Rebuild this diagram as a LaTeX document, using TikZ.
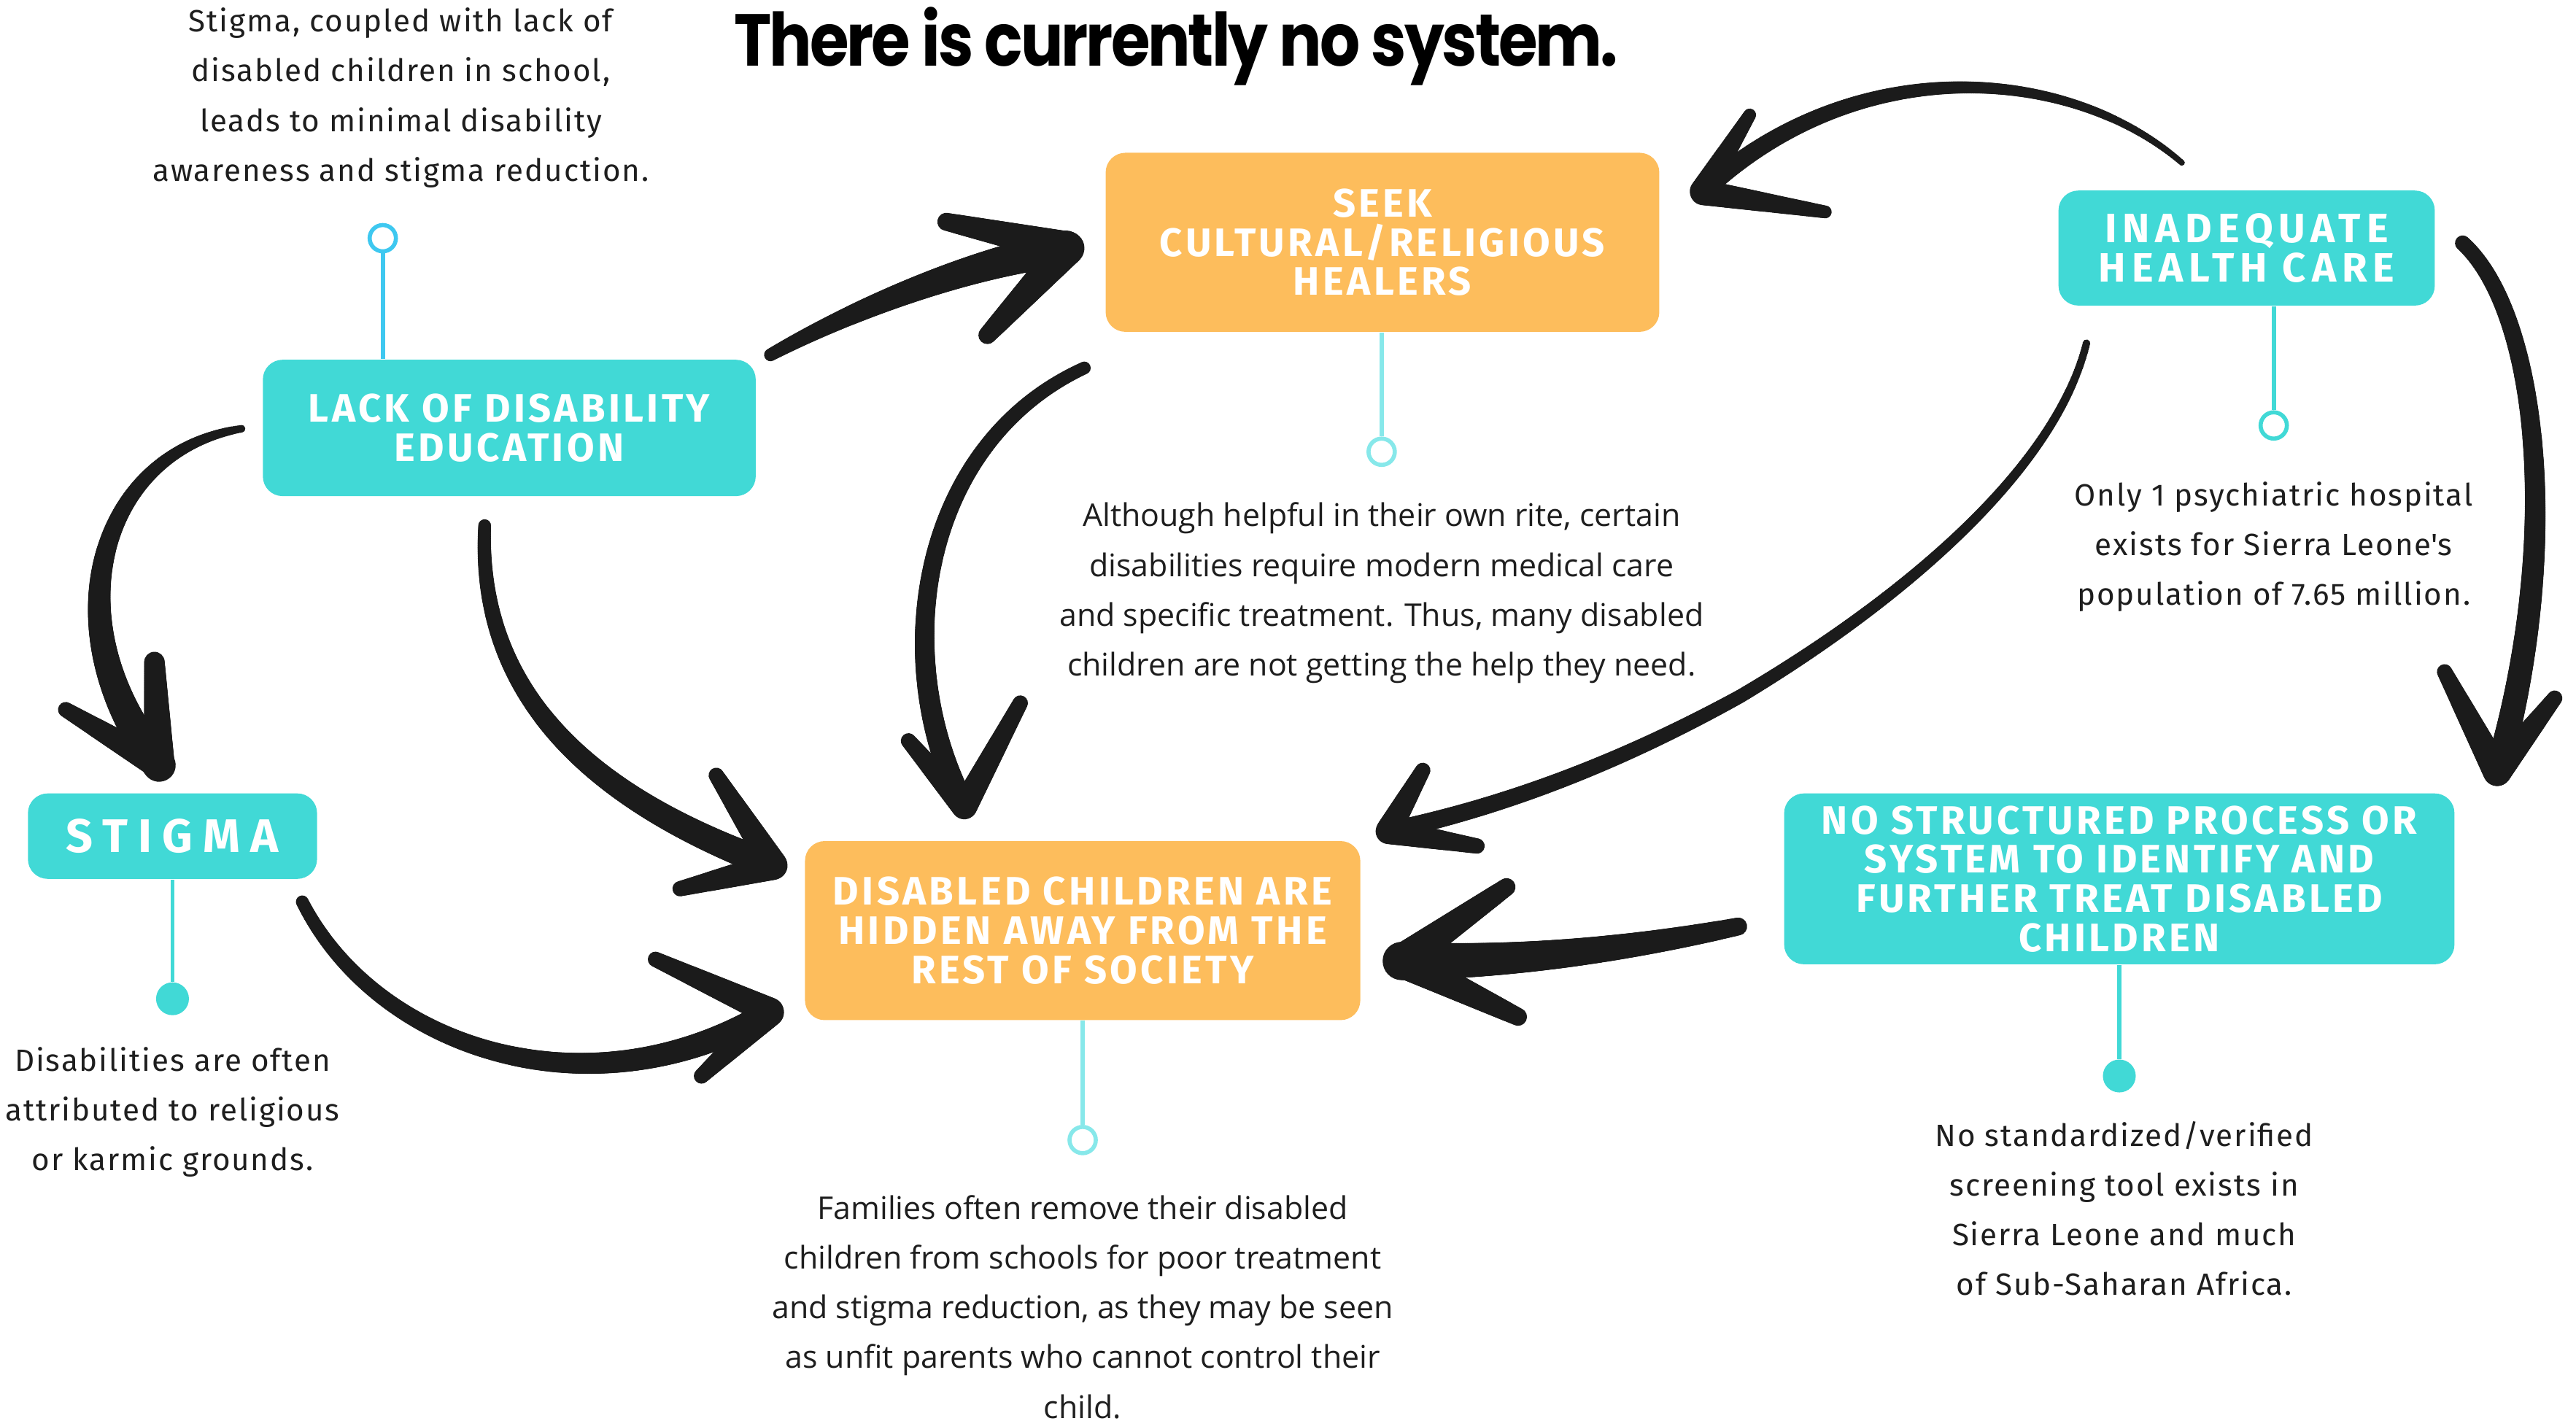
\documentclass[tikz,border=0pt]{standalone}
\usepackage{fontspec}
\usetikzlibrary{decorations.markings}
\setmainfont{Fira Sans}
\newfontfamily\titlefont[FakeStretch=0.86,LetterSpace=-3]{Poppins}
\newfontfamily\boxfont[LetterSpace=8]{Fira Sans}
\newfontfamily\spacedfont[LetterSpace=14]{Fira Sans}
\newfontfamily\widespacedfont[LetterSpace=22]{Fira Sans}
\newfontfamily\notefont[LetterSpace=4.5]{Fira Sans}
\newfontfamily\widefont{Open Sans}

\definecolor{boxteal}{RGB}{65,217,214}
\definecolor{boxorange}{RGB}{253,189,92}
\definecolor{pinblue}{RGB}{62,200,240}
\definecolor{pincyan}{RGB}{135,232,234}
\definecolor{ink}{RGB}{27,27,27}
\definecolor{notetext}{RGB}{30,30,30}

\tikzset{
  boxsize/.style 2 args={minimum width=#1*0.02252cm, minimum height=#2*0.02252cm},
  card/.style={rounded corners=7.7pt, inner sep=0pt, align=center, text=white,
    font=\boxfont\bfseries\fontsize{15.5}{15.3}\selectfont},
  tealcard/.style={card, fill=boxteal},
  orangecard/.style={card, fill=boxorange},
  note/.style={align=center, inner sep=0pt, text=notetext,
    font=\notefont\fontsize{12}{19.4}\selectfont},
  widenote/.style={note, font=\widefont\fontsize{12.2}{19.4}\selectfont},
  ringpin/.style={circle, minimum size=16*0.02252cm, inner sep=0pt, line width=1.6pt, fill=white},
  dotpin/.style={circle, minimum size=20*0.02252cm, inner sep=0pt, fill=boxteal},
  pinline/.style={line width=1.6pt},
  % hand-brushed stroke: discs along the path, radius growing from #1 to #2 (pt)
  brush/.style 2 args={decoration={markings,
      mark=between positions 0 and 1 step 0.7pt with {%
        \pgfmathsetmacro\brushr{#1+(#2-#1)*\pgfkeysvalueof{/pgf/decoration/mark info/distance from start}/\pgfdecoratedpathlength}%
        \fill[ink] (0,0) circle[radius=\brushr pt];}},
    decorate}
}

\begin{document}
\begin{tikzpicture}[x=0.02252cm, y=-0.02252cm]
\useasboundingbox (0,0) rectangle (1568,865);
\fill[white] (0,0) rectangle (1568,865);
\clip (0,0) rectangle (1568,865);

% ---------- arrow end points ----------
\coordinate (a1s) at (469,216);  \coordinate (a1t) at (650,151);
\coordinate (a1u) at (576,135);  \coordinate (a1l) at (601,204);
\coordinate (a2s) at (1328,99);  \coordinate (a2t) at (1036,117);
\coordinate (a2u) at (1065,70);  \coordinate (a2l) at (1111,129);
\coordinate (a3s) at (1499,148); \coordinate (a3t) at (1520,470);
\coordinate (a3u) at (1488,409); \coordinate (a3l) at (1555,425);
\coordinate (a4s) at (1270,209); \coordinate (a4t) at (845,506);
\coordinate (a4u) at (866,469);  \coordinate (a4l) at (899,515);
\coordinate (a5s) at (1058,564); \coordinate (a5t) at (853,585);
\coordinate (a5u) at (917,540);  \coordinate (a5l) at (924,619);
\coordinate (a6s) at (660,224);  \coordinate (a6t) at (587,491);
\coordinate (a6u) at (553,451);  \coordinate (a6l) at (621,428);
\coordinate (a7s) at (295,320);  \coordinate (a7t) at (471,527);
\coordinate (a7u) at (436,472);  \coordinate (a7l) at (414,541);
\coordinate (a8s) at (184,549);  \coordinate (a8t) at (469,616);
\coordinate (a8u) at (399,584);  \coordinate (a8l) at (427,655);
\coordinate (a9s) at (147,261);  \coordinate (a9t) at (97,466);
\coordinate (a9u) at (40,432);   \coordinate (a9l) at (94,403);

% ---------- brushed arrows ----------
% lack of education -> healers
\path[brush={2.5}{7}] (a1s) .. controls (520,188) and (590,160) .. (a1t);
\path[brush={3.5}{6.5}] (a1u) -- (a1t);
\path[brush={3.5}{6.5}] (a1l) -- (a1t);
% health care -> healers
\path[brush={1.2}{3.8}] (a2s) .. controls (1260,40) and (1130,30) .. (a2t);
\path[brush={2.5}{5}] (a2u) -- (a2t);
\path[brush={2.5}{5}] (a2l) -- (a2t);
% health care -> no structured process
\path[brush={3}{5}] (a3s) .. controls (1545,190) and (1560,330) .. (a3t);
\path[brush={3}{5.5}] (a3u) -- (a3t);
\path[brush={3}{5.5}] (a3l) -- (a3t);
% health care -> hidden children
\path[brush={1.5}{3.6}] (a4s) .. controls (1250,290) and (1150,370) .. (1059,424)
   .. controls (990,462) and (920,490) .. (a4t);
\path[brush={3}{5}] (a4u) -- (a4t);
\path[brush={3}{5}] (a4l) -- (a4t);
% no structured process -> hidden children
\path[brush={3.5}{7.5}] (a5s) .. controls (990,578) and (920,586) .. (a5t);
\path[brush={3.5}{6.5}] (a5u) -- (a5t);
\path[brush={3.5}{6.5}] (a5l) -- (a5t);
% healers -> hidden children
\path[brush={2.5}{4.5}] (a6s) .. controls (560,270) and (540,400) .. (a6t);
\path[brush={3}{5}] (a6u) -- (a6t);
\path[brush={3}{5}] (a6l) -- (a6t);
% lack of education -> hidden children
\path[brush={2.5}{5.5}] (a7s) .. controls (290,430) and (370,490) .. (a7t);
\path[brush={3}{5.5}] (a7u) -- (a7t);
\path[brush={3}{5.5}] (a7l) -- (a7t);
% stigma -> hidden children
\path[brush={2.5}{5}] (a8s) .. controls (230,640) and (360,680) .. (a8t);
\path[brush={3}{5.5}] (a8u) -- (a8t);
\path[brush={3}{5.5}] (a8l) -- (a8t);
% lack of education -> stigma
\path[brush={1.5}{6.5}] (a9s) .. controls (60,275) and (30,380) .. (a9t);
\path[brush={3}{5.5}] (a9u) -- (a9t);
\path[brush={4}{6}] (a9l) -- (a9t);

% ---------- title ----------
\node[anchor=base, inner sep=0pt, text=black,
      font=\titlefont\bfseries\fontsize{28.7}{30}\selectfont] (title) at (716,40)
      {There is currently no system.};

% ---------- cards ----------
\node[tealcard, boxsize={300}{83}] (lack) at (310,260.5) {LACK OF DISABILITY\\EDUCATION};
\node[orangecard, boxsize={337}{109}] (healers) at (841.5,147.5) {SEEK\\CULTURAL/RELIGIOUS\\HEALERS};
\node[tealcard, boxsize={229}{70}, font=\spacedfont\bfseries\fontsize{16}{15.4}\selectfont]
     (health) at (1367.5,151) {INADEQUATE\\HEALTH CARE};
\node[tealcard, boxsize={176}{52}, font=\widespacedfont\bfseries\fontsize{18.4}{18}\selectfont]
     (stigma) at (105,509) {STIGMA};
\node[orangecard, boxsize={338}{109}] (hidden) at (659,566.5) {DISABLED CHILDREN ARE\\HIDDEN AWAY FROM THE\\REST OF SOCIETY};
\node[tealcard, boxsize={408}{104}] (process) at (1290,535) {NO STRUCTURED PROCESS OR\\SYSTEM TO IDENTIFY AND\\FURTHER TREAT DISABLED\\CHILDREN};

% ---------- pins ----------
\node[ringpin, draw=pinblue] (lackpin) at (233,145) {};
\draw[pinline, pinblue] (lackpin) -- (lackpin |- lack.north);
\node[ringpin, draw=pincyan] (healerspin) at (841,275) {};
\draw[pinline, pincyan] (healerspin) -- (healerspin |- healers.south);
\node[ringpin, draw=boxteal] (healthpin) at (1384,259) {};
\draw[pinline, boxteal] (healthpin) -- (healthpin |- health.south);
\node[dotpin] (stigmapin) at (105,608) {};
\draw[pinline, boxteal] (stigmapin) -- (stigmapin |- stigma.south);
\node[ringpin, draw=pincyan] (hiddenpin) at (659,694) {};
\draw[pinline, pincyan] (hiddenpin) -- (hiddenpin |- hidden.south);
\node[dotpin] (processpin) at (1290,655) {};
\draw[pinline, boxteal] (processpin) -- (processpin |- process.south);

% ---------- notes ----------
\node[note] (lacknote) at (244,59.5) {Stigma, coupled with lack of\\disabled children in school,\\leads to minimal disability\\awareness and stigma reduction.};
\node[widenote] (healersnote) at (841,361) {Although helpful in their own rite, certain\\disabilities require modern medical care\\and specific treatment. Thus, many disabled\\children are not getting the help they need.};
\node[note] (healthnote) at (1384,332.7) {Only 1 psychiatric hospital\\exists for Sierra Leone\textquotesingle s\\population of 7.65 million.};
\node[note] (stigmanote) at (105,677) {Disabilities are often\\attributed to religious\\or karmic grounds.};
\node[widenote] (hiddennote) at (659,795.6) {Families often remove their disabled\\children from schools for poor treatment\\and stigma reduction, as they may be seen\\as unfit parents who cannot control their\\child.};
\node[note] (processnote) at (1293,735.75) {No standardized/verified\\screening tool exists in\\Sierra Leone and much\\of Sub-Saharan Africa.};
\end{tikzpicture}
\end{document}
